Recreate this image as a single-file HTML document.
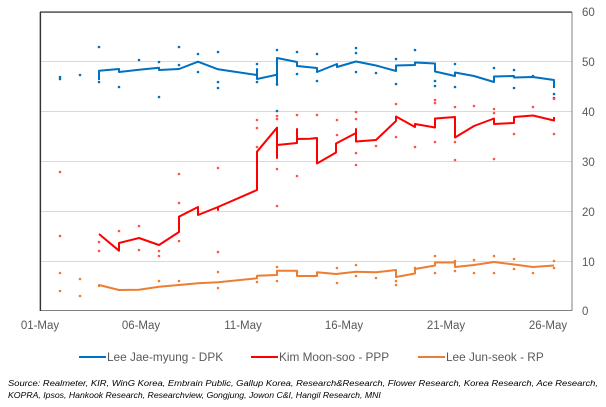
<!DOCTYPE html>
<html><head><meta charset="utf-8"><style>
body{margin:0;background:#fff;width:606px;height:402px;overflow:hidden;font-family:"Liberation Sans",Arial,sans-serif}
</style></head><body>
<svg width="606" height="402" xmlns="http://www.w3.org/2000/svg" font-family="Liberation Sans, Arial, sans-serif">
<g stroke="#d9d9d9" stroke-width="1">
<line x1="40" y1="61.5" x2="572" y2="61.5"/><line x1="40" y1="111.5" x2="572" y2="111.5"/>
<line x1="40" y1="161.5" x2="572" y2="161.5"/><line x1="40" y1="211.5" x2="572" y2="211.5"/>
<line x1="40" y1="261.5" x2="572" y2="261.5"/>
</g>
<rect x="40" y="12.5" width="532" height="298" fill="none" stroke="#808080" stroke-width="1"/>
<line x1="40" y1="12" x2="572" y2="12" stroke="#666" stroke-width="1.5"/>
<line x1="40.5" y1="12" x2="40.5" y2="311" stroke="#333" stroke-width="1.2"/>
<g font-size="11.5" fill="#595959">
<text x="582" y="16">60</text><text x="582" y="66">50</text><text x="582" y="116">40</text>
<text x="582" y="166">30</text><text x="582" y="216">20</text><text x="582" y="266">10</text><text x="582" y="315">0</text>
</g>
<g font-size="11.5" fill="#595959" text-anchor="middle">
<text x="40" y="329">01-May</text><text x="141" y="329">06-May</text><text x="243" y="329">11-May</text>
<text x="344" y="329">16-May</text><text x="446" y="329">21-May</text><text x="548" y="329">26-May</text>
</g>
<g fill="#0070c0">
<circle cx="60" cy="77" r="1.3"/><circle cx="60" cy="79" r="1.3"/><circle cx="80" cy="75" r="1.3"/><circle cx="99" cy="47" r="1.3"/><circle cx="99" cy="82" r="1.3"/><circle cx="119" cy="87" r="1.3"/><circle cx="139" cy="60" r="1.3"/><circle cx="159" cy="62" r="1.3"/><circle cx="159" cy="97" r="1.3"/><circle cx="179" cy="47" r="1.3"/><circle cx="179" cy="65" r="1.3"/><circle cx="198" cy="54" r="1.3"/><circle cx="198" cy="72" r="1.3"/><circle cx="218" cy="52" r="1.3"/><circle cx="218" cy="82" r="1.3"/><circle cx="218" cy="88" r="1.3"/><circle cx="257" cy="64" r="1.3"/><circle cx="257" cy="82" r="1.3"/><circle cx="277" cy="50" r="1.3"/><circle cx="277" cy="84" r="1.3"/><circle cx="277" cy="111" r="1.3"/><circle cx="297" cy="52" r="1.3"/><circle cx="297" cy="74" r="1.3"/><circle cx="317" cy="54" r="1.3"/><circle cx="317" cy="81" r="1.3"/><circle cx="356" cy="48" r="1.3"/><circle cx="356" cy="53" r="1.3"/><circle cx="356" cy="72" r="1.3"/><circle cx="376" cy="73" r="1.3"/><circle cx="396" cy="59" r="1.3"/><circle cx="396" cy="84" r="1.3"/><circle cx="415" cy="50" r="1.3"/><circle cx="435" cy="81" r="1.3"/><circle cx="435" cy="86" r="1.3"/><circle cx="455" cy="64" r="1.3"/><circle cx="455" cy="87" r="1.3"/><circle cx="494" cy="68" r="1.3"/><circle cx="514" cy="70" r="1.3"/><circle cx="514" cy="88" r="1.3"/><circle cx="533" cy="76" r="1.3"/><circle cx="554" cy="94" r="1.3"/><circle cx="554" cy="98" r="1.3"/>
</g>
<g fill="#ff5050">
<circle cx="60" cy="172" r="1.3"/><circle cx="60" cy="236" r="1.3"/><circle cx="99" cy="242" r="1.3"/><circle cx="99" cy="251" r="1.3"/><circle cx="119" cy="231" r="1.3"/><circle cx="139" cy="226" r="1.3"/><circle cx="139" cy="250" r="1.3"/><circle cx="159" cy="251" r="1.3"/><circle cx="159" cy="256" r="1.3"/><circle cx="179" cy="174" r="1.3"/><circle cx="179" cy="203" r="1.3"/><circle cx="179" cy="241" r="1.3"/><circle cx="218" cy="168" r="1.3"/><circle cx="218" cy="252" r="1.3"/><circle cx="257" cy="120" r="1.3"/><circle cx="257" cy="128" r="1.3"/><circle cx="257" cy="147" r="1.3"/><circle cx="277" cy="116" r="1.3"/><circle cx="277" cy="119" r="1.3"/><circle cx="277" cy="169" r="1.3"/><circle cx="277" cy="206" r="1.3"/><circle cx="297" cy="115" r="1.3"/><circle cx="297" cy="176" r="1.3"/><circle cx="317" cy="115" r="1.3"/><circle cx="337" cy="120" r="1.3"/><circle cx="337" cy="135" r="1.3"/><circle cx="356" cy="112" r="1.3"/><circle cx="356" cy="119" r="1.3"/><circle cx="356" cy="153" r="1.3"/><circle cx="356" cy="165" r="1.3"/><circle cx="376" cy="146" r="1.3"/><circle cx="396" cy="104" r="1.3"/><circle cx="396" cy="137" r="1.3"/><circle cx="415" cy="147" r="1.3"/><circle cx="435" cy="100" r="1.3"/><circle cx="435" cy="103" r="1.3"/><circle cx="435" cy="142" r="1.3"/><circle cx="455" cy="107" r="1.3"/><circle cx="455" cy="142" r="1.3"/><circle cx="455" cy="160" r="1.3"/><circle cx="474" cy="106" r="1.3"/><circle cx="494" cy="109" r="1.3"/><circle cx="494" cy="113" r="1.3"/><circle cx="494" cy="159" r="1.3"/><circle cx="514" cy="134" r="1.3"/><circle cx="533" cy="107" r="1.3"/><circle cx="554" cy="99" r="1.3"/><circle cx="554" cy="134" r="1.3"/>
</g>
<g fill="#ed7d31">
<circle cx="60" cy="273" r="1.3"/><circle cx="60" cy="291" r="1.3"/><circle cx="80" cy="279" r="1.3"/><circle cx="80" cy="296" r="1.3"/><circle cx="159" cy="281" r="1.3"/><circle cx="179" cy="281" r="1.3"/><circle cx="218" cy="272" r="1.3"/><circle cx="218" cy="288" r="1.3"/><circle cx="257" cy="282" r="1.3"/><circle cx="277" cy="267" r="1.3"/><circle cx="277" cy="281" r="1.3"/><circle cx="297" cy="272" r="1.3"/><circle cx="337" cy="268" r="1.3"/><circle cx="337" cy="283" r="1.3"/><circle cx="356" cy="265" r="1.3"/><circle cx="356" cy="276" r="1.3"/><circle cx="376" cy="278" r="1.3"/><circle cx="396" cy="281" r="1.3"/><circle cx="396" cy="285" r="1.3"/><circle cx="415" cy="268" r="1.3"/><circle cx="435" cy="256" r="1.3"/><circle cx="435" cy="273" r="1.3"/><circle cx="455" cy="261" r="1.3"/><circle cx="455" cy="271" r="1.3"/><circle cx="474" cy="260" r="1.3"/><circle cx="474" cy="273" r="1.3"/><circle cx="494" cy="256" r="1.3"/><circle cx="494" cy="273" r="1.3"/><circle cx="514" cy="259" r="1.3"/><circle cx="514" cy="269" r="1.3"/><circle cx="533" cy="273" r="1.3"/><circle cx="554" cy="261" r="1.3"/><circle cx="554" cy="268" r="1.3"/>
</g>
<g fill="none" stroke-width="2" stroke-linejoin="round">
<path stroke="#0070c0" d="M99,80 L99,70.7 L119,69 L119,72 L139,69.7 L159,67.7 L159,70 L179,69 L198,61.7 L218,69.3 L257,75 L257,69 L257,79 L277,74.7 L277,85 L277,58 L297,62 L297,66 L317,68 L317,72 L337,64 L337,67 L356,61.5 L376,65.5 L396,71 L396,65.5 L415,65 L415,62.5 L435,63.5 L435,71.5 L455,76 L455,72.5 L474,76 L494,82 L494,76.5 L514,76 L514,77.5 L533,77 L554,80 L554,88"/>
<path stroke="#ff0000" d="M99,234 L119,250.7 L119,243 L139,238 L159,245 L179,232 L179,216.7 L198,207 L198,215 L218,207 L218,210 L218,207 L257,190 L257,151.7 L277,127.7 L277,158 L277,145 L297,143 L297,129 L297,139 L310,138.7 L317,138 L317,163.5 L336,152.5 L336,143.5 L356,133 L356,129 L356,141.5 L376,140 L396,121 L396,116.5 L415,127 L415,124 L435,127.5 L435,118.5 L455,117 L455,137.5 L474,126 L494,118.5 L494,124 L514,123 L514,117 L533,115.5 L554,120.5 L554,117"/>
<path stroke="#ed7d31" d="M99,287 L99,285 L119,290 L139,289.7 L159,286.7 L179,285 L198,283.3 L218,282.3 L257,278.3 L257,275.7 L277,275 L277,270.7 L297,270.7 L297,276 L317,276 L317,272.3 L336,274 L356,271.7 L376,272.3 L396,270 L396,277 L415,273.5 L415,269 L435,265.5 L435,262.5 L455,262.5 L455,267 L474,265 L494,262 L514,264.5 L533,267 L554,265.5"/>
</g>
<g font-size="11.8" fill="#595959">
<line x1="79" y1="357" x2="106" y2="357" stroke="#0070c0" stroke-width="2"/><text x="107" y="361">Lee Jae-myung - DPK</text>
<line x1="251" y1="357" x2="278" y2="357" stroke="#ff0000" stroke-width="2"/><text x="279" y="361">Kim Moon-soo - PPP</text>
<line x1="418" y1="357" x2="445" y2="357" stroke="#ed7d31" stroke-width="2"/><text x="446" y="361">Lee Jun-seok - RP</text>
</g>
<g font-size="8.7" font-style="italic" fill="#000">
<text x="8" y="386" textLength="590" lengthAdjust="spacingAndGlyphs">Source: Realmeter, KIR, WinG Korea, Embrain Public, Gallup Korea, Research&amp;Research, Flower Research, Korea Research, Ace Research,</text>
<text x="8" y="398">KOPRA, Ipsos, Hankook Research, Researchview, Gongjung, Jowon C&amp;I, Hangil Research, MNI</text>
</g>
</svg>
</body></html>
